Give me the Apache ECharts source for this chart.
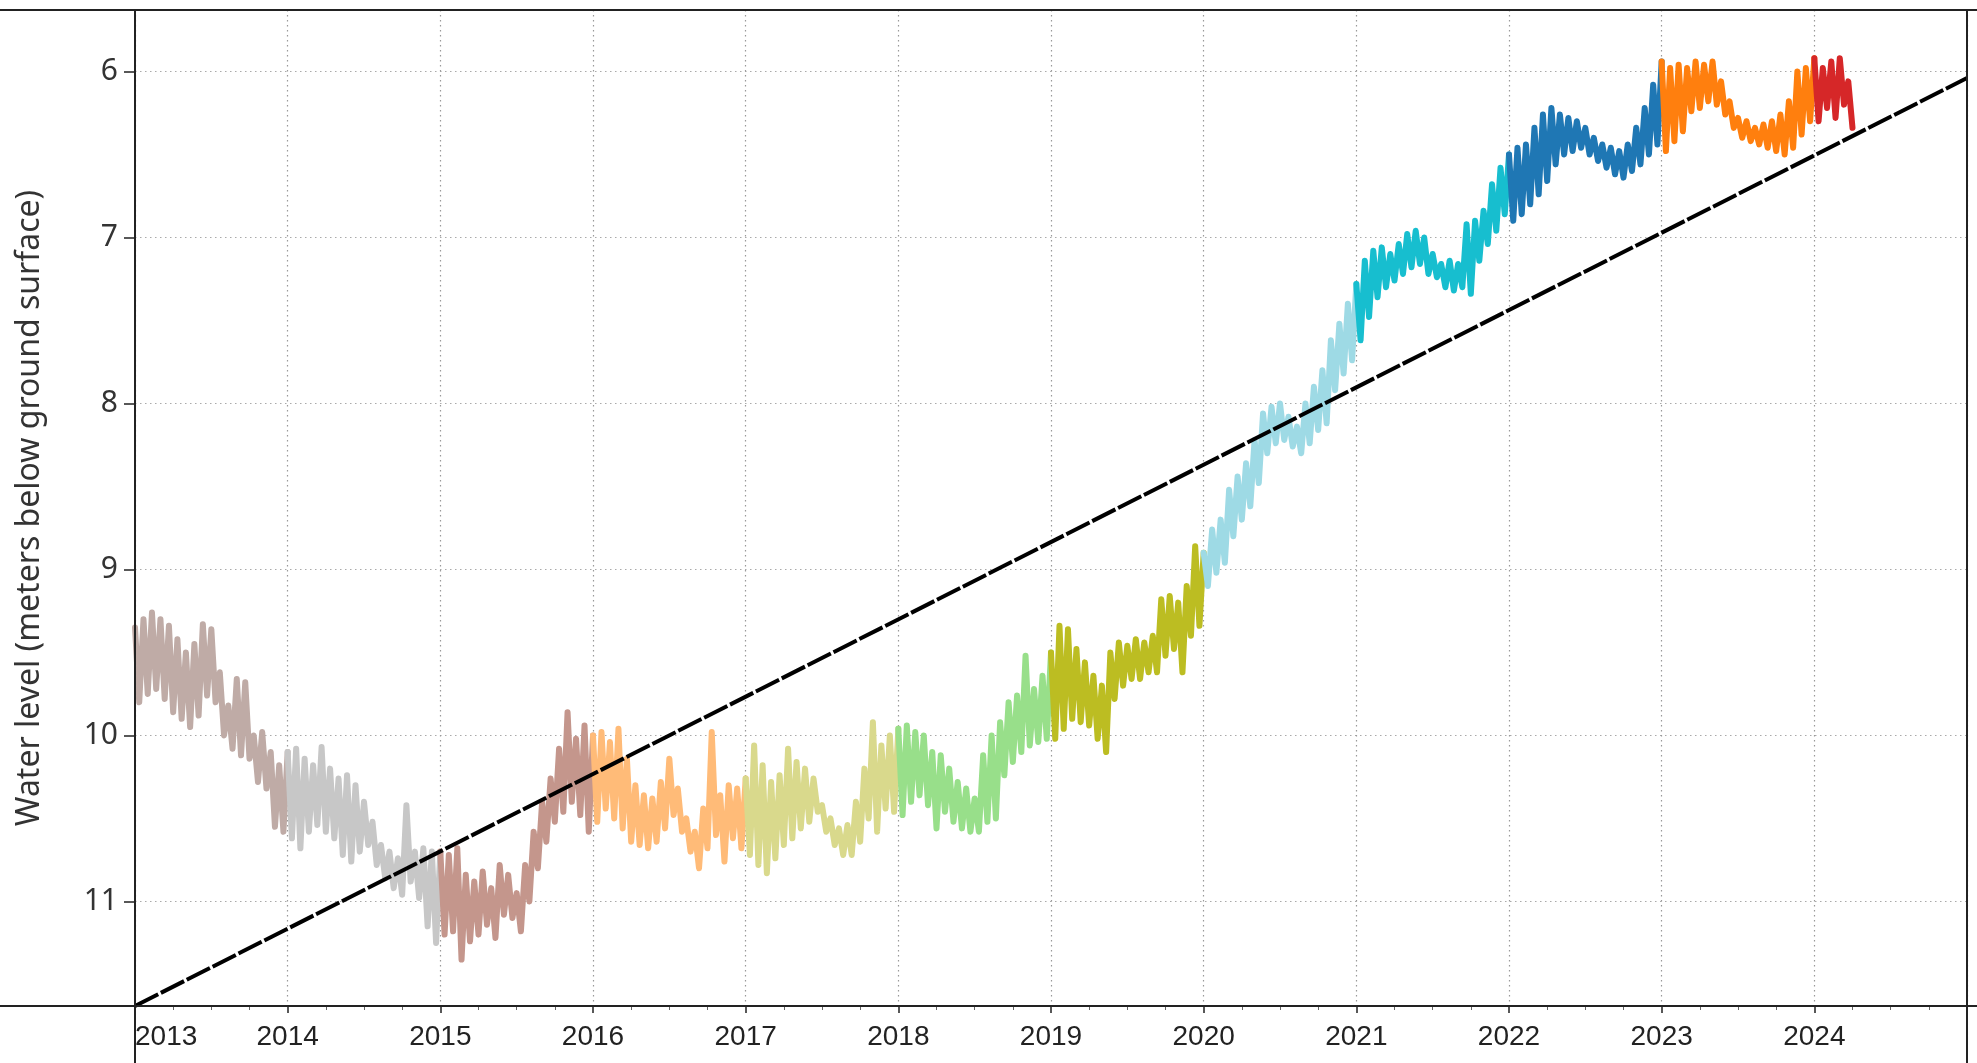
<!DOCTYPE html>
<html>
<head>
<meta charset="utf-8">
<script src="https://cdn.jsdelivr.net/npm/echarts@6/dist/echarts.min.js"></script>
<style>
html,body{margin:0;padding:0;background:#fff;}
#chart{width:1977px;height:1063px;}
</style>
</head>
<body>
<div id="chart"></div>
<script>
// ---- data ----
const years = [2013, 2014, 2015, 2016, 2017, 2018, 2019, 2020, 2021, 2022, 2023, 2024];
const yearColors = ['#bfaba6', '#c7c7c7', '#c4968c', '#ffbb78', '#d9d98c', '#98df8a',
                    '#bcbd22', '#9edae5', '#17becf', '#1f77b4', '#ff7f0e', '#d62728'];
const samplesPerYear = 36;   // values are ~10 days apart, alternating high/low of the daily noise band

const v2013 = [9.35,9.80, 9.30,9.75, 9.26,9.72, 9.30,9.78, 9.34,9.86, 9.42,9.90, 9.50,9.95, 9.45,9.88, 9.33,9.76,
               9.36,9.80, 9.62,10.00, 9.82,10.08, 9.66,10.12, 9.68,10.14, 10.00,10.28, 9.98,10.32, 10.10,10.55, 10.18,10.58];
const v2014 = [10.10,10.62, 10.08,10.68, 10.14,10.58, 10.18,10.54, 10.07,10.58, 10.20,10.62, 10.26,10.72, 10.24,10.76, 10.30,10.70,
               10.40,10.66, 10.52,10.78, 10.66,10.86, 10.70,10.92, 10.74,10.96, 10.42,10.88, 10.70,10.98, 10.68,11.15, 10.70,11.25];
const v2015 = [10.70,11.20, 10.72,11.18, 10.68,11.35, 10.84,11.24, 10.88,11.20, 10.82,11.14, 10.92,11.22, 10.78,11.08, 10.84,11.10,
               10.95,11.18, 10.78,11.00, 10.58,10.80, 10.40,10.64, 10.26,10.52, 10.08,10.46, 9.86,10.40, 10.02,10.48, 9.94,10.58];
const v2016 = [10.00,10.52, 9.98,10.44, 10.04,10.50, 9.96,10.56, 10.14,10.64, 10.30,10.66, 10.36,10.68, 10.38,10.64, 10.28,10.56,
               10.14,10.48, 10.32,10.58, 10.50,10.70, 10.58,10.80, 10.44,10.68, 9.98,10.60, 10.36,10.76, 10.30,10.62, 10.32,10.68];
const v2017 = [10.26,10.72, 10.06,10.78, 10.18,10.83, 10.28,10.74, 10.24,10.66, 10.08,10.62, 10.16,10.56, 10.20,10.52, 10.26,10.46,
               10.42,10.58, 10.50,10.66, 10.56,10.72, 10.54,10.72, 10.40,10.64, 10.20,10.50, 9.92,10.58, 10.06,10.44, 10.00,10.46];
const v2018 = [9.96,10.48, 9.94,10.40, 9.98,10.36, 10.00,10.42, 10.10,10.56, 10.12,10.46, 10.20,10.52, 10.28,10.56, 10.32,10.58,
               10.38,10.58, 10.12,10.52, 10.00,10.50, 9.92,10.24, 9.80,10.16, 9.76,10.10, 9.52,10.06, 9.72,10.04, 9.64,10.02];
const v2019 = [9.50,10.02, 9.34,9.96, 9.36,9.90, 9.48,9.92, 9.56,9.94, 9.64,10.02, 9.70,10.10, 9.50,9.78, 9.44,9.70,
               9.46,9.66, 9.42,9.66, 9.44,9.62, 9.40,9.62, 9.18,9.52, 9.16,9.48, 9.20,9.62, 9.10,9.40, 8.86,9.34];
const v2020 = [8.90,9.10, 8.76,9.02, 8.70,8.96, 8.52,8.80, 8.44,8.70, 8.36,8.62, 8.22,8.48, 8.06,8.30, 8.02,8.24,
               8.00,8.22, 8.08,8.26, 8.14,8.30, 8.00,8.24, 7.90,8.16, 7.80,8.12, 7.62,7.92, 7.52,7.82, 7.40,7.74];
const v2021 = [7.28,7.62, 7.14,7.48, 7.08,7.36, 7.06,7.30, 7.10,7.26, 7.04,7.22, 6.98,7.18, 6.96,7.16, 7.00,7.22,
               7.10,7.24, 7.16,7.30, 7.14,7.32, 7.16,7.30, 6.92,7.34, 6.90,7.14, 6.84,7.04, 6.68,6.96, 6.58,6.86];
const v2022 = [6.50,6.90, 6.46,6.86, 6.44,6.80, 6.34,6.74, 6.26,6.66, 6.22,6.56, 6.26,6.50, 6.28,6.48, 6.30,6.46,
               6.34,6.50, 6.40,6.54, 6.44,6.58, 6.46,6.62, 6.48,6.64, 6.44,6.60, 6.34,6.56, 6.22,6.50, 6.08,6.44];
const v2023 = [5.94,6.48, 5.98,6.42, 5.96,6.36, 5.98,6.24, 5.94,6.22, 5.96,6.18, 5.94,6.20, 6.06,6.26, 6.18,6.34,
               6.28,6.40, 6.30,6.42, 6.34,6.44, 6.32,6.46, 6.30,6.48, 6.26,6.50, 6.18,6.46, 6.00,6.38, 5.98,6.30];
const v2024 = [5.92,6.30, 5.98,6.22, 5.94,6.28, 5.92,6.20, 6.06,6.34];
const yearValues = [v2013, v2014, v2015, v2016, v2017, v2018, v2019, v2020, v2021, v2022, v2023, v2024];

const trendX = [2013, 2025];
const trendY = [11.63, 6.04];

const xTickLabels = [2013, 2014, 2015, 2016, 2017, 2018, 2019, 2020, 2021, 2022, 2023, 2024];
const yTickLabels = [6, 7, 8, 9, 10, 11];
const yTitle = 'Water level (meters below ground surface)';

// ---- chart ----
const chart = echarts.init(document.getElementById('chart'), null, {renderer: 'canvas'});
const G = {left: 135, right: 10, top: 10, bottom: 57};

const series = years.map((y, idx) => {
  const vals = yearValues[idx];
  const data = vals.map((v, i) => [y + i / samplesPerYear, v]);
  if (idx + 1 < years.length) data.push([years[idx + 1], yearValues[idx + 1][0]]);
  return {
    name: String(y), type: 'line', data: data, showSymbol: false, symbol: 'none',
    lineStyle: {color: yearColors[idx], width: 6, join: 'round', cap: 'round'},
    itemStyle: {color: yearColors[idx]}, z: 2, silent: true, clip: true
  };
});
series.push({
  name: 'trend', type: 'line', data: trendX.map((x, i) => [x, trendY[i]]),
  showSymbol: false, symbol: 'none', z: 5, silent: true,
  lineStyle: {color: '#000', width: 4, type: [26, 3]}
});

const W = 1977, H = 1063;
const frame = '#222';
const lineEl = (x1, y1, x2, y2) => ({type: 'line', z: 100, silent: true,
  shape: {x1, y1, x2, y2}, style: {stroke: frame, lineWidth: 2}});
const xL = G.left, xR = W - G.right, yT = G.top, yB = H - G.bottom;

chart.setOption({
  animation: false,
  backgroundColor: '#fff',
  grid: {left: G.left, right: G.right, top: G.top, bottom: G.bottom, containLabel: false},
  xAxis: {
    type: 'value', min: 2013, max: 2025, interval: 1,
    axisLine: {show: true, lineStyle: {color: frame, width: 2}},
    axisTick: {show: true, length: 7, lineStyle: {color: frame, width: 1.5}},
    minorTick: {show: true, splitNumber: 4, length: 4, lineStyle: {color: '#666', width: 1}},
    axisLabel: {
      show: true, margin: 17, fontFamily: 'Liberation Sans', fontSize: 28, color: '#222',
      alignMinLabel: 'left', showMaxLabel: false,
      formatter: v => (xTickLabels.indexOf(v) >= 0 ? String(v) : '')
    },
    splitLine: {show: true, lineStyle: {color: '#999', width: 1.2, type: [1.5, 3.5]}}
  },
  yAxis: {
    type: 'value', inverse: true, min: 5.63, max: 11.63, splitNumber: 6,
    name: yTitle, nameLocation: 'middle', nameGap: 89, nameRotate: 90,
    nameTextStyle: {fontFamily: 'Noto Sans', fontSize: 32, color: '#333'},
    axisLine: {show: true, lineStyle: {color: frame, width: 2}},
    axisTick: {show: true, length: 11, lineStyle: {color: frame, width: 1.5}},
    axisLabel: {
      show: true, margin: 17, fontFamily: 'Noto Sans', fontSize: 30, color: '#333',
      showMinLabel: false, showMaxLabel: false,
      formatter: v => (yTickLabels.indexOf(v) >= 0 ? String(v) : '')
    },
    splitLine: {show: true, lineStyle: {color: '#aaa', width: 1.2, type: [1.5, 3.5]}}
  },
  graphic: [
    lineEl(0, yT, W, yT),
    lineEl(0, yB, W, yB),
    lineEl(xL, yT, xL, H),
    lineEl(xR, yT, xR, H)
  ],
  series: series
});
</script>
</body>
</html>
